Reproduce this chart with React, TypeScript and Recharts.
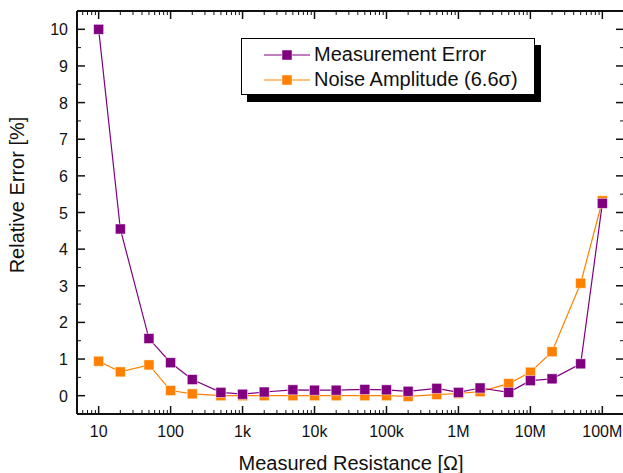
import React from 'react'
import { LineChart, Line, XAxis, YAxis } from 'recharts'

// measured resistance in ohms
const resistance = [10, 20, 50, 100, 200, 500, 1e3, 2e3, 5e3, 1e4, 2e4, 5e4, 1e5, 2e5, 5e5, 1e6, 2e6, 5e6, 1e7, 2e7, 5e7, 1e8]
const measurementError = [10.0, 4.55, 1.56, 0.9, 0.44, 0.09, 0.04, 0.1, 0.16, 0.15, 0.15, 0.17, 0.16, 0.12, 0.2, 0.09, 0.21, 0.09, 0.41, 0.46, 0.87, 5.25]
const noiseAmplitude = [0.94, 0.65, 0.84, 0.14, 0.05, 0.0, 0.0, 0.0, 0.0, 0.0, 0.0, 0.0, 0.0, -0.02, 0.03, 0.06, 0.11, 0.33, 0.64, 1.2, 3.07, 5.32]

const xMajorTicks = [10, 100, 1e3, 1e4, 1e5, 1e6, 1e7, 1e8]
const xTickLabels = ['10', '100', '1k', '10k', '100k', '1M', '10M', '100M']
const xMinorSteps = [2, 3, 4, 5, 6, 7, 8, 9]
const yMajorTicks = [0, 1, 2, 3, 4, 5, 6, 7, 8, 9, 10]

const X_DOMAIN = [5, 2e8]
const Y_DOMAIN = [-0.5, 10.5]
const PURPLE = '#800080'
const ORANGE = '#ff8000'
const INK = '#111'

const data = resistance.map((r, i) => ({ r, err: measurementError[i], noise: noiseAmplitude[i] }))

// log axis: majors plus 2..9 minors, kept inside the domain
const xTicks: number[] = [6, 7, 8, 9]
xMajorTicks.forEach((m) => {
  xTicks.push(m)
  xMinorSteps.forEach((s) => {
    const v = m * s
    if (v < X_DOMAIN[1]) xTicks.push(v)
  })
})
const yTicks: number[] = []
yMajorTicks.forEach((v) => {
  yTicks.push(v)
  if (v < 10) yTicks.push(v + 0.5)
})

const majorX = (v: number) => xMajorTicks.indexOf(v)

// tickSize/tickMargin are 0 so x,y given to the tick sit on the axis line
const BottomTick = (props: any) => {
  const { x, y, payload } = props
  const idx = majorX(payload.value)
  const major = idx >= 0
  return (
    <g>
      <line x1={x} x2={x} y1={y} y2={y - (major ? 8 : 4)} stroke={INK} strokeWidth={major ? 1.5 : 1} />
      {major && (
        <text x={x} y={y + 23} textAnchor="middle" fontSize={16} fill={INK}>
          {xTickLabels[idx]}
        </text>
      )}
    </g>
  )
}

const TopTick = (props: any) => {
  const { x, y, payload } = props
  const major = majorX(payload.value) >= 0
  return <line x1={x} x2={x} y1={y} y2={y + (major ? 8 : 4)} stroke={INK} strokeWidth={major ? 1.5 : 1} />
}

const LeftTick = (props: any) => {
  const { x, y, payload } = props
  const major = Number.isInteger(payload.value)
  return (
    <g>
      <line x1={x} x2={x + (major ? 8 : 4)} y1={y} y2={y} stroke={INK} strokeWidth={major ? 1.5 : 1} />
      {major && (
        <text x={x - 9} y={y + 6} textAnchor="end" fontSize={16} fill={INK}>
          {payload.value}
        </text>
      )}
    </g>
  )
}

const RightTick = (props: any) => {
  const { x, y, payload } = props
  const major = Number.isInteger(payload.value)
  return <line x1={x} x2={x - (major ? 8 : 4)} y1={y} y2={y} stroke={INK} strokeWidth={major ? 1.5 : 1} />
}

const squareDot = (color: string) => (props: any) => {
  const { cx, cy, index } = props
  if (cx == null || cy == null) return <g key={index} />
  return (
    <rect key={index} x={cx - 5} y={cy - 5} width={10} height={10} fill={color} stroke="#fff" strokeOpacity={0.6} strokeWidth={0.8} />
  )
}

const LegendRow = ({ color, label }: { color: string; label: string }) => (
  <div style={{ display: 'flex', alignItems: 'center', height: 25 }}>
    <svg width={50} height={14} style={{ marginRight: 1 }}>
      <line x1={1} x2={47} y1={7} y2={7} stroke={color} strokeWidth={1.2} />
      <rect x={19} y={2} width={10} height={10} fill={color} stroke="#fff" strokeOpacity={0.6} strokeWidth={0.8} />
    </svg>
    <span>{label}</span>
  </div>
)

const frameLine = { stroke: INK, strokeWidth: 2 }

export default function App() {
  return (
    <div
      style={{
        position: 'absolute',
        left: 0,
        top: 0,
        width: 623,
        height: 473,
        overflow: 'hidden',
        background: '#fff',
        fontFamily: "Arial, 'Liberation Sans', sans-serif",
        color: INK,
      }}
    >
      <LineChart width={626} height={473} data={data} margin={{ top: 10, right: 1, bottom: 29, left: 0 }}>
        {/* frame: four axes with inward ticks */}
        <XAxis
          xAxisId="b"
          dataKey="r"
          type="number"
          scale="log"
          domain={X_DOMAIN}
          allowDataOverflow
          ticks={xTicks}
          interval={0}
          height={30}
          tickSize={0}
          tickMargin={0}
          axisLine={frameLine}
          tickLine={false}
          tick={BottomTick}
        />
        <XAxis
          xAxisId="t"
          orientation="top"
          dataKey="r"
          type="number"
          scale="log"
          domain={X_DOMAIN}
          allowDataOverflow
          ticks={xTicks}
          interval={0}
          height={1}
          tickSize={0}
          tickMargin={0}
          axisLine={frameLine}
          tickLine={false}
          tick={TopTick}
        />
        <YAxis
          yAxisId="l"
          type="number"
          domain={Y_DOMAIN}
          allowDataOverflow
          ticks={yTicks}
          interval={0}
          width={77}
          tickSize={0}
          tickMargin={0}
          axisLine={frameLine}
          tickLine={false}
          tick={LeftTick}
        />
        <YAxis
          yAxisId="r"
          orientation="right"
          type="number"
          domain={Y_DOMAIN}
          allowDataOverflow
          ticks={yTicks}
          interval={0}
          width={1}
          tickSize={0}
          tickMargin={0}
          axisLine={frameLine}
          tickLine={false}
          tick={RightTick}
        />

        {/* hidden axes the series are plotted on */}
        <XAxis xAxisId="dx" dataKey="r" type="number" scale="log" domain={X_DOMAIN} allowDataOverflow height={0} hide />
        <YAxis yAxisId="dy" type="number" domain={Y_DOMAIN} allowDataOverflow width={0} hide />

        <Line
          xAxisId="dx"
          yAxisId="dy"
          dataKey="noise"
          stroke={ORANGE}
          strokeWidth={1.2}
          dot={squareDot(ORANGE)}
          isAnimationActive={false}
        />
        <Line
          xAxisId="dx"
          yAxisId="dy"
          dataKey="err"
          stroke={PURPLE}
          strokeWidth={1.2}
          dot={squareDot(PURPLE)}
          isAnimationActive={false}
        />
      </LineChart>

      <div
        style={{
          position: 'absolute',
          left: 241,
          top: 38,
          width: 294,
          height: 57,
          boxSizing: 'border-box',
          border: '1px solid #000',
          background: '#fff',
          boxShadow: '6px 7px 0 #000',
          padding: '3px 0 0 21px',
          fontSize: 20,
        }}
      >
        <LegendRow color={PURPLE} label="Measurement Error" />
        <LegendRow color={ORANGE} label="Noise Amplitude (6.6σ)" />
      </div>

      <div
        style={{
          position: 'absolute',
          left: 17,
          top: 195,
          transform: 'translate(-50%, -50%) rotate(-90deg)',
          whiteSpace: 'nowrap',
          fontSize: 20,
        }}
      >
        Relative Error [%]
      </div>
      <div
        style={{
          position: 'absolute',
          left: 351,
          top: 452,
          transform: 'translateX(-50%)',
          whiteSpace: 'nowrap',
          fontSize: 20,
        }}
      >
        Measured Resistance [Ω]
      </div>
    </div>
  )
}
